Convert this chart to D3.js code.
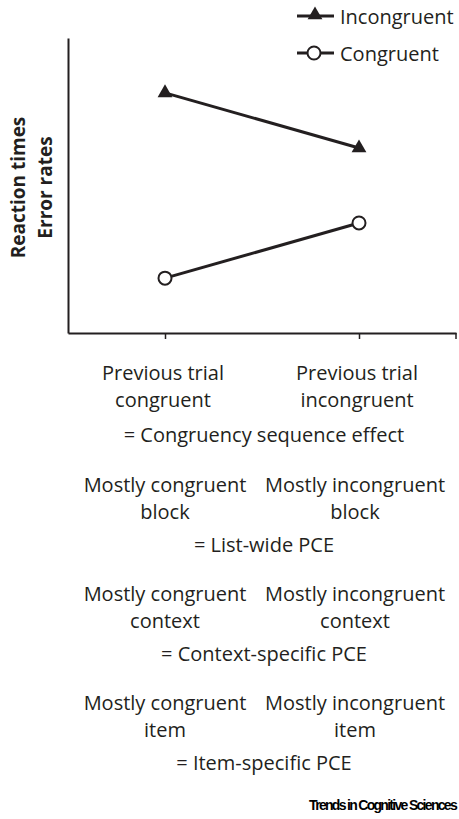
<!DOCTYPE html>
<html>
<head>
<meta charset="utf-8">
<script src="https://cdn.jsdelivr.net/npm/d3@7"></script>
<style>
  html, body { margin: 0; padding: 0; background: #fff; }
  svg { display: block; }
</style>
</head>
<body>
<div id="chart"></div>
<script>
// ---- data ----
const categories = ["Previous trial congruent", "Previous trial incongruent"];
const categoryLines = [["Previous trial", "congruent"], ["Previous trial", "incongruent"]];
const seriesNames = ["Incongruent", "Congruent"];
const incongruentValues = [81.4, 62.7];
const congruentValues = [18.6, 37.3];
const effectLabel = "= Congruency sequence effect";
const paradigmLeft = [["Mostly congruent", "block"], ["Mostly congruent", "context"], ["Mostly congruent", "item"]];
const paradigmRight = [["Mostly incongruent", "block"], ["Mostly incongruent", "context"], ["Mostly incongruent", "item"]];
const paradigmEffects = ["= List-wide PCE", "= Context-specific PCE", "= Item-specific PCE"];
const yAxisLines = ["Reaction times", "Error rates"];
const sourceLabel = "Trends in Cognitive Sciences";

// ---- layout ----
const W = 459, H = 819;
const ink = "#231f20";
const font = "'Open Sans', 'Noto Sans', sans-serif";
const fs = 20;

const svg = d3.select("#chart").append("svg").attr("width", W).attr("height", H);

const x = d3.scalePoint().domain(categories).range([68, 456]).padding(0.5);
const y = d3.scaleLinear().domain([0, 100]).range([333, 38]);

// y axis line
svg.append("g")
  .attr("transform", "translate(68,0)")
  .call(d3.axisLeft(y).tickValues([]).tickSizeOuter(0))
  .call(g => g.select(".domain").attr("stroke", ink).attr("stroke-width", 2));

// x axis
svg.append("g")
  .attr("transform", `translate(0,${y(0)})`)
  .call(d3.axisBottom(x).tickSize(6).tickSizeOuter(0).tickFormat(""))
  .call(g => g.select(".domain").attr("stroke", ink).attr("stroke-width", 2))
  .call(g => g.selectAll(".tick line").attr("stroke", ink).attr("stroke-width", 1.5));
// outer right tick
svg.append("line")
  .attr("x1", x.range()[1]).attr("x2", x.range()[1])
  .attr("y1", y(0)).attr("y2", y(0) + 6)
  .attr("stroke", ink).attr("stroke-width", 1.5);

// y axis label
const yl = svg.append("text")
  .attr("transform", `translate(25,${(y(0) + y(100)) / 2 + 2}) rotate(-90)`)
  .attr("text-anchor", "middle")
  .attr("font-family", font).attr("font-weight", "bold").attr("font-size", 19)
  .attr("fill", ink);
yAxisLines.forEach((t, i) => {
  yl.append("tspan").attr("x", 0).attr("y", i * 27).text(t);
});

// lines
const line = d3.line().x((d, i) => x(categories[i])).y(d => y(d));
svg.append("path").datum(incongruentValues)
  .attr("d", line).attr("fill", "none").attr("stroke", ink).attr("stroke-width", 3);
svg.append("path").datum(congruentValues)
  .attr("d", line).attr("fill", "none").attr("stroke", ink).attr("stroke-width", 3);

const tri = d3.symbol().type(d3.symbolTriangle).size(95);
svg.selectAll(".tri").data(incongruentValues).join("path")
  .attr("transform", (d, i) => `translate(${x(categories[i])},${y(d)})`)
  .attr("d", tri).attr("fill", ink);
svg.selectAll(".circ").data(congruentValues).join("circle")
  .attr("cx", (d, i) => x(categories[i])).attr("cy", d => y(d))
  .attr("r", 6.5).attr("fill", "#fff").attr("stroke", ink).attr("stroke-width", 2);

// legend
const legend = svg.append("g");
seriesNames.forEach((name, i) => {
  const ly = 16 + i * 37;
  legend.append("line").attr("x1", 297).attr("x2", 334).attr("y1", ly).attr("y2", ly)
    .attr("stroke", ink).attr("stroke-width", 3);
  if (i === 0) {
    legend.append("path").attr("d", tri).attr("transform", `translate(315,${ly - 1})`).attr("fill", ink);
  } else {
    legend.append("circle").attr("cx", 314).attr("cy", ly).attr("r", 6.5)
      .attr("fill", "#fff").attr("stroke", ink).attr("stroke-width", 2);
  }
  legend.append("text").attr("x", 340).attr("y", ly + 8)
    .attr("font-family", font).attr("font-size", fs).attr("fill", ink).text(name);
});

// category labels
function twoLine(cx, top, lines) {
  const t = svg.append("text").attr("text-anchor", "middle")
    .attr("font-family", font).attr("font-size", fs).attr("fill", ink);
  lines.forEach((s, i) => t.append("tspan").attr("x", cx).attr("y", top + i * 27).text(s));
}
const mid = (x(categories[0]) + x(categories[1])) / 2 + 2;
categoryLines.forEach((lines, i) => twoLine(x(categories[i]) - 2, 380, lines));
svg.append("text").attr("x", mid).attr("y", 442).attr("text-anchor", "middle")
  .attr("font-family", font).attr("font-size", fs).attr("fill", ink).text(effectLabel);

paradigmLeft.forEach((lines, k) => {
  const top = 492 + k * 109;
  twoLine(x(categories[0]), top, lines);
  twoLine(x(categories[1]) - 4, top, paradigmRight[k]);
  svg.append("text").attr("x", mid).attr("y", top + 60).attr("text-anchor", "middle")
    .attr("font-family", font).attr("font-size", fs).attr("fill", ink).text(paradigmEffects[k]);
});

// source
svg.append("text").attr("x", 456).attr("y", 810).attr("text-anchor", "end")
  .attr("font-family", "'Liberation Sans Narrow', 'Arial Narrow', 'Liberation Sans', sans-serif")
  .attr("font-weight", "bold").attr("font-size", 14).attr("letter-spacing", -1.7)
  .attr("fill", "#000").text(sourceLabel);
</script>
</body>
</html>
